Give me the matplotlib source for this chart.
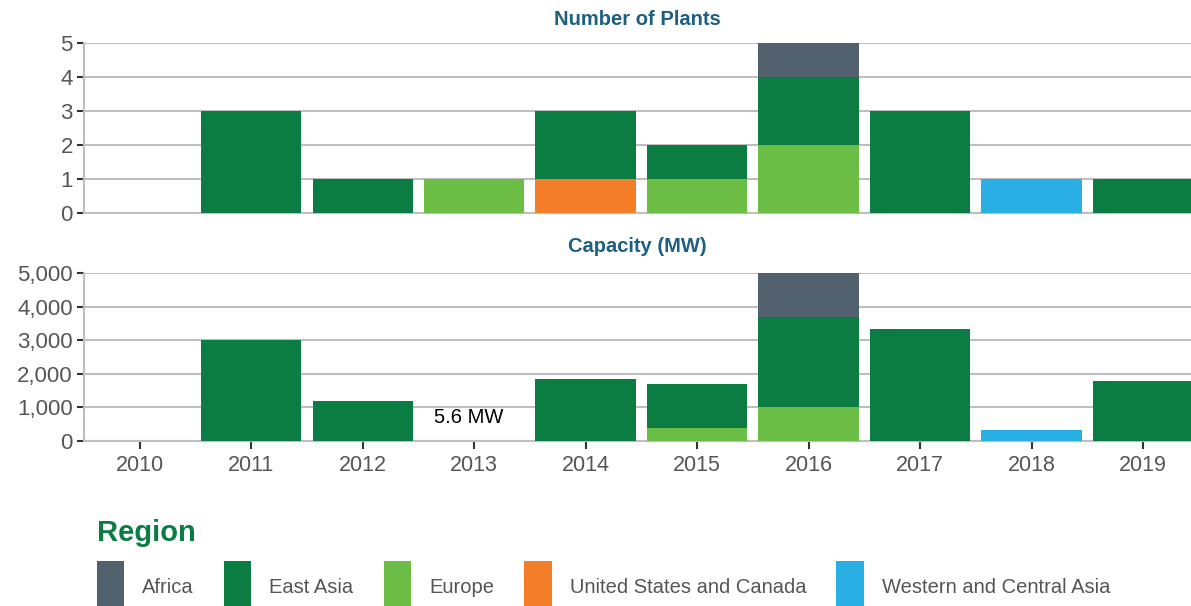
import matplotlib.pyplot as plt
import numpy as np

years = ['2010', '2011', '2012', '2013', '2014', '2015', '2016', '2017', '2018', '2019']
regions = ['Africa', 'East Asia', 'Europe', 'United States and Canada', 'Western and Central Asia']
colors = ['#52616e', '#0b7d43', '#6cbd45', '#f47d2a', '#29afe3']

# number of plants per region (stack order bottom -> top)
plants_us = [0, 0, 0, 0, 1, 0, 0, 0, 0, 0]
plants_europe = [0, 0, 0, 1, 0, 1, 2, 0, 0, 0]
plants_wca = [0, 0, 0, 0, 0, 0, 0, 0, 1, 0]
plants_eastasia = [0, 3, 1, 0, 2, 1, 2, 3, 0, 1]
plants_africa = [0, 0, 0, 0, 0, 0, 1, 0, 0, 0]

# capacity in MW
cap_us = [0, 0, 0, 0, 0, 0, 0, 0, 0, 0]
cap_europe = [0, 0, 0, 5.6, 0, 400, 1000, 0, 0, 0]
cap_wca = [0, 0, 0, 0, 0, 0, 0, 0, 320, 0]
cap_eastasia = [0, 3000, 1200, 0, 1860, 1310, 2700, 3320, 0, 1800]
cap_africa = [0, 0, 0, 0, 0, 0, 1330, 0, 0, 0]

plt.rcParams['font.family'] = ['Liberation Sans', 'DejaVu Sans']

fig = plt.figure(figsize=(11.91, 6.06), dpi=100)
W, H = 1191, 606
ax1 = fig.add_axes([84 / W, 1 - 213 / H, 1 - 84 / W, 170 / H])
ax2 = fig.add_axes([84 / W, 1 - 441 / H, 1 - 84 / W, 168 / H])

x = np.arange(len(years))
grid_c = '#bfbfbf'
title_c = '#1d5f80'


def stack(ax, series):
    bottom = np.zeros(len(years))
    bars = {}
    for name, vals in series:
        vals = np.array(vals, dtype=float)
        c = colors[regions.index(name)]
        bars[name] = ax.bar(x, vals, 0.9, bottom=bottom, color=c, zorder=3, label=name)
        bottom += vals
    return bars


s1 = [('United States and Canada', plants_us), ('Europe', plants_europe),
      ('Western and Central Asia', plants_wca), ('East Asia', plants_eastasia), ('Africa', plants_africa)]
s2 = [('United States and Canada', cap_us), ('Europe', cap_europe),
      ('Western and Central Asia', cap_wca), ('East Asia', cap_eastasia), ('Africa', cap_africa)]
bars = stack(ax1, s1)
stack(ax2, s2)

for ax in (ax1, ax2):
    ax.set_xlim(-0.5, 9.43)
    for s in ['top', 'right']:
        ax.spines[s].set_visible(False)
    ax.spines['left'].set_color(grid_c)
    ax.spines['left'].set_linewidth(1.5)
    ax.spines['bottom'].set_color(grid_c)
    ax.spines['bottom'].set_linewidth(1.5)
    ax.yaxis.grid(True, color=grid_c, linewidth=1.5, zorder=0)
    ax.set_axisbelow(True)
    ax.tick_params(axis='y', length=5, width=1.5, color='#333333', labelsize=16,
                   labelcolor='#555555', pad=3)

ax1.set_ylim(0, 5)
ax1.set_yticks([0, 1, 2, 3, 4, 5])
ax1.set_xticks([])
ax1.set_title('Number of Plants', fontsize=14.5, fontweight='bold', color=title_c, pad=13)

ax2.set_ylim(0, 5000)
ax2.set_yticks([0, 1000, 2000, 3000, 4000, 5000])
ax2.set_yticklabels(['0', '1,000', '2,000', '3,000', '4,000', '5,000'])
ax2.set_xticks(x)
ax2.set_xticklabels(years)
ax2.tick_params(axis='x', length=6, width=1.5, color='#333333', labelsize=15.5,
                labelcolor='#555555', pad=4)
ax2.set_title('Capacity (MW)', fontsize=14.5, fontweight='bold', color=title_c, pad=15)
ax2.text(2.95, 700, '5.6 MW', ha='center', va='center', fontsize=14.5, color='black', zorder=4)

fig.text(97 / W, 1 - 533 / H, 'Region', fontsize=21, fontweight='bold', color='#0b7d43',
         ha='left', va='center')

handles = [bars[r] for r in regions]
fig.legend(handles, regions, loc='lower left', bbox_to_anchor=(97 / W, -0.012), ncol=5,
           frameon=False, fontsize=14.5, handlelength=1.35, handleheight=3.6,
           handletextpad=0.9, columnspacing=1.5, borderpad=0, borderaxespad=0,
           labelcolor='#555555')

fig.savefig('out.png', dpi=100)
